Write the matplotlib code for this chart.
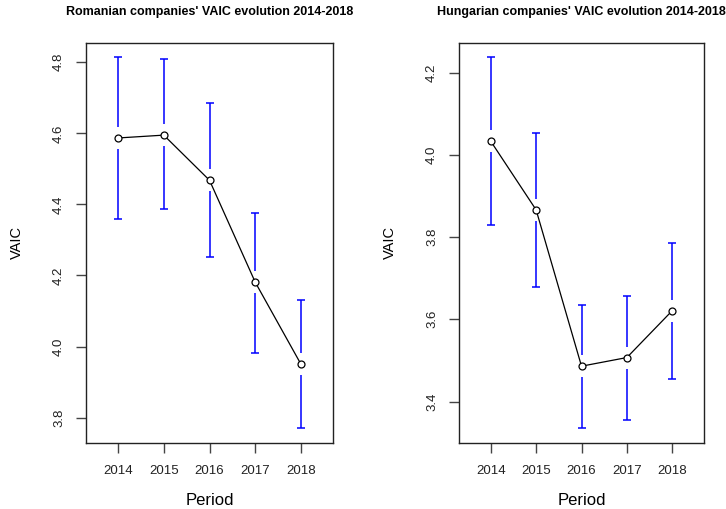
import matplotlib

matplotlib.use("Agg")
import matplotlib.pyplot as plt
import numpy as np

plt.rcParams["font.family"] = ["Liberation Sans", "DejaVu Sans"]

years = [2014, 2015, 2016, 2017, 2018]

# Romania: mean VAIC and CI bounds
ro_mean = [4.587, 4.595, 4.468, 4.181, 3.950]
ro_low = [4.358, 4.386, 4.252, 3.983, 3.771]
ro_high = [4.814, 4.808, 4.686, 4.376, 4.130]

# Hungary: mean VAIC and CI bounds
hu_mean = [4.033, 3.866, 3.486, 3.507, 3.621]
hu_low = [3.829, 3.678, 3.336, 3.355, 3.456]
hu_high = [4.237, 4.053, 3.635, 3.657, 3.786]

ro_ticks = [3.8, 4.0, 4.2, 4.4, 4.6, 4.8]
hu_ticks = [3.4, 3.6, 3.8, 4.0, 4.2]

W, H, DPI = 726, 509, 100
fig = plt.figure(figsize=(W / DPI, H / DPI), dpi=DPI)


def panel(rect, mean, low, high, yticks, title):
    ax = fig.add_axes(rect)
    x = np.array(years, dtype=float)
    mean, low, high = map(np.asarray, (mean, low, high))

    # R-style limits: data range padded by 4%
    lo, hi = low.min(), high.max()
    pad = 0.04 * (hi - lo)
    ax.set_ylim(lo - pad, hi + pad)
    ax.set_xlim(2013.3, 2018.7)

    # gap around the points, ~11 px
    px_per_unit = rect[3] * H / (hi - lo + 2 * pad)
    gap = 11 / px_per_unit

    ax.vlines(x, low, mean - gap, color="blue", lw=1.1)
    ax.vlines(x, mean + gap, high, color="blue", lw=1.1)
    ax.plot(x, low, ls="none", marker="_", ms=5.5, mew=1.1, color="blue")
    ax.plot(x, high, ls="none", marker="_", ms=5.5, mew=1.1, color="blue")

    ax.plot(x, mean, color="black", lw=0.9, marker="o", ms=5,
            mfc="white", mec="black", mew=0.9, zorder=3)

    ax.set_xticks(years)
    ax.set_xticklabels([str(y) for y in years])
    ax.set_yticks(yticks)
    ax.set_yticklabels([f"{t:.1f}" for t in yticks], rotation=90, va="center")
    ax.tick_params(axis="both", length=7, width=1, color="#444444",
                   labelsize=9.5, labelcolor="#222222")
    ax.tick_params(axis="x", pad=9)
    ax.tick_params(axis="y", pad=8)
    for s in ax.spines.values():
        s.set_linewidth(1)
        s.set_color("#222222")

    ax.text(0.5, -0.145, "Period", transform=ax.transAxes, fontsize=12,
            ha="center", va="center")
    ax.text(-69 / (rect[2] * W), 0.5, "VAIC", transform=ax.transAxes,
            fontsize=10.5, rotation=90, ha="center", va="center")
    ax.text(0.5, 1 + 31 / (rect[3] * H), title, transform=ax.transAxes,
            fontsize=9, fontweight="bold", ha="center", va="center")
    return ax


panel([86 / W, 1 - 442.7 / H, 247 / W, 400.2 / H], ro_mean, ro_low, ro_high,
      ro_ticks, "Romanian companies' VAIC evolution 2014-2018")
panel([459 / W, 1 - 442.7 / H, 245 / W, 400.2 / H], hu_mean, hu_low, hu_high,
      hu_ticks, "Hungarian companies' VAIC evolution 2014-2018")

fig.savefig("out.png", dpi=DPI)
